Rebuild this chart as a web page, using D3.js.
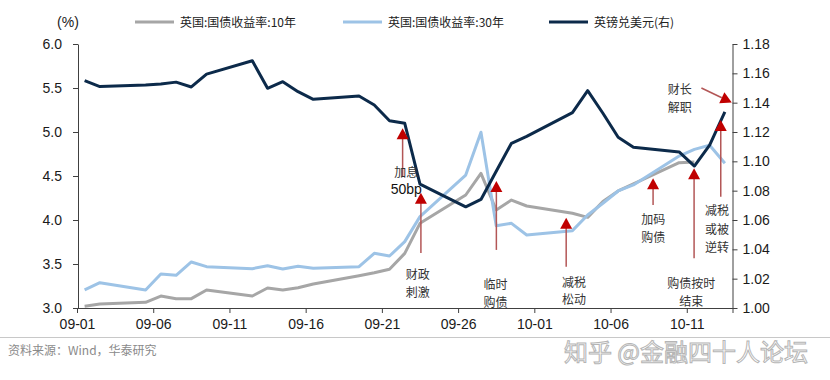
<!DOCTYPE html>
<html><head><meta charset="utf-8">
<script src="https://cdn.jsdelivr.net/npm/d3@7"></script>
<style>body{margin:0;background:#fff}svg{display:block}</style>
</head><body><svg id="c" width="830" height="380"></svg>
<script>
const dates = ["2022-09-01","2022-09-02","2022-09-05","2022-09-06","2022-09-07","2022-09-08","2022-09-09",
"2022-09-12","2022-09-13","2022-09-14","2022-09-15","2022-09-16","2022-09-19","2022-09-20","2022-09-21",
"2022-09-22","2022-09-23","2022-09-26","2022-09-27","2022-09-28","2022-09-29","2022-09-30",
"2022-10-03","2022-10-04","2022-10-05","2022-10-06","2022-10-07","2022-10-10","2022-10-11","2022-10-12","2022-10-13"];
const gilt10 = [3.02,3.045,3.065,3.136,3.106,3.106,3.205,3.136,3.227,3.205,3.231,3.273,3.367,3.40,3.44,
3.621,3.962,4.284,4.53,4.114,4.227,4.159,4.076,4.03,4.21,4.33,4.41,4.651,4.66,null,null];
const gilt30 = [3.205,3.288,3.205,3.386,3.371,3.523,3.47,3.447,3.481,3.443,3.474,3.451,3.47,3.621,3.591,
3.754,4.038,4.511,4.997,3.935,3.962,3.83,3.879,4.057,4.19,4.33,4.398,4.727,4.803,4.85,4.644];
const gbpusd = [1.155,1.151,1.152,1.1527,1.154,1.1507,1.1595,1.1686,1.1498,1.1543,1.1475,1.1423,1.1445,1.1384,1.1277,
1.1259,1.0845,1.069,1.074,1.0932,1.1123,1.117,1.1332,1.1482,1.1328,1.1164,1.1096,1.1064,1.0968,1.1111,1.1338];
const xTickLabels = ["09-01","09-06","09-11","09-16","09-21","09-26","10-01","10-06","10-11"];
const leftTicks = [3.0,3.5,4.0,4.5,5.0,5.5,6.0];
const rightTicks = [1.00,1.02,1.04,1.06,1.08,1.10,1.12,1.14,1.16,1.18];
const seriesNames = ["英国:国债收益率:10年","英国:国债收益率:30年","英镑兑美元(右)"];
const colors = ["#a6a6a6","#9dc3e6","#0c2a4a"];
// annotations: day offset from 09-01, left-axis values for arrow tip / stem end, label lines
const notes = [
  {day:21.36, tip:5.042, end:4.49, lx:21.6, ly:[4.55,4.35], lines:["加息","50bp"]},
  {day:22.56, tip:4.31, end:3.625, lx:22.35, ly:[3.39,3.19], lines:["财政","刺激"]},
  {day:27.51, tip:4.443, end:3.66, lx:27.45, ly:[3.28,3.075], lines:["临时","购债"]},
  {day:32.09, tip:4.026, end:3.469, lx:32.6, ly:[3.30,3.105], lines:["减税","松动"]},
  {day:37.79, tip:4.474, end:4.17, lx:37.8, ly:[4.02,3.815], lines:["加码","购债"]},
  {day:40.48, tip:4.588, end:3.565, lx:40.3, ly:[3.29,3.09], lines:["购债按时","结束"]},
  {day:42.23, tip:5.136, end:4.265, lx:41.98, ly:[4.115,3.90,3.70], lines:["减税","或被","逆转"]}
];
const diagNote = {fromDay:40.96, fromV:5.5, toDay:42.95, toV:5.335, lx:39.54, ly:[5.49,5.29], lines:["财长","解职"]};

const svg = d3.select("#c");
const parse = d3.utcParse("%Y-%m-%d");
const start = parse("2022-09-01"), stop = parse("2022-10-14");
const x = d3.scaleUtc().domain([start, stop]).range([77, 732.5]);
const yL = d3.scaleLinear().domain([3,6]).range([308,44]);
const yR = d3.scaleLinear().domain([1.00,1.18]).range([308,44]);
const mid = s => new Date(parse(s).getTime() + 12*3600e3);
const dayX = d => x(new Date(start.getTime() + d*864e5));
const font = "'Liberation Sans', Arial, sans-serif";
const cjk = "'Noto Sans CJK SC', sans-serif";

// axes
const xAxis = d3.axisBottom(x).tickValues(xTickLabels.map(t => parse("2022-"+t)))
  .tickFormat(d3.utcFormat("%m-%d")).tickSizeOuter(0).tickSize(5);
const gx = svg.append("g").attr("transform","translate(0,308)").call(xAxis);
const gl = svg.append("g").attr("transform","translate(78,0)").call(d3.axisLeft(yL).tickValues(leftTicks).tickFormat(d3.format(".1f")).tickSize(5).tickSizeOuter(0));
const gr = svg.append("g").attr("transform","translate(732.5,0)").call(d3.axisRight(yR).tickValues(rightTicks).tickFormat(d3.format(".2f")).tickSize(5).tickSizeOuter(0));
[gx,gl,gr].forEach(g=>{
  g.selectAll("path,line").attr("stroke","#404040").attr("stroke-width",1);
  g.selectAll("text").attr("font-family",font).attr("font-size",14).attr("fill","#1a1a1a");
});
gx.selectAll("text").attr("dy","0.95em");
gl.selectAll("text").attr("x",-16);
gr.selectAll("text").attr("x",10);

svg.append("text").attr("x",68).attr("y",27).attr("text-anchor","middle")
  .attr("font-family",font).attr("font-size",14).attr("fill","#1a1a1a").text("(%)");

// lines
const mk = (vals, scale) => d3.line().defined(d => d[1] != null)
  .x(d => x(mid(d[0]))).y(d => scale(d[1]))(dates.map((dt,i)=>[dt, vals[i]]));
svg.append("path").attr("d", mk(gilt10, yL)).attr("fill","none").attr("stroke",colors[0]).attr("stroke-width",3).attr("stroke-linejoin","round");
svg.append("path").attr("d", mk(gilt30, yL)).attr("fill","none").attr("stroke",colors[1]).attr("stroke-width",3).attr("stroke-linejoin","round");
svg.append("path").attr("d", mk(gbpusd, yR)).attr("fill","none").attr("stroke",colors[2]).attr("stroke-width",3).attr("stroke-linejoin","round");

// legend
const legX = [135, 343, 549];
seriesNames.forEach((n,i)=>{
  svg.append("line").attr("x1",legX[i]).attr("x2",legX[i]+39).attr("y1",22).attr("y2",22)
    .attr("stroke",colors[i]).attr("stroke-width",3);
  svg.append("text").attr("x",legX[i]+45).attr("y",26.5).attr("font-family",cjk).attr("font-size",12)
    .attr("fill","#222").text(n);
});

// annotations
const red = "#c00000", stem = "#b35656";
notes.forEach(n=>{
  const ax = dayX(n.day), ty = yL(n.tip), ey = yL(n.end);
  svg.append("line").attr("x1",ax).attr("x2",ax).attr("y1",ty+8).attr("y2",ey)
    .attr("stroke",stem).attr("stroke-width",1.5);
  svg.append("path").attr("d",`M${ax},${ty}L${ax-6},${ty+11}L${ax+6},${ty+11}Z`).attr("fill",red);
  n.lines.forEach((t,j)=>{
    svg.append("text").attr("x",dayX(n.lx)).attr("y",yL(n.ly[j])).attr("text-anchor","middle")
      .attr("dominant-baseline","central")
      .attr("font-family", t==="50bp"?font:cjk).attr("font-size", t==="50bp"?14:12)
      .attr("fill", t==="50bp"?"#111":"#333").text(t);
  });
});
{
  const x1 = dayX(diagNote.fromDay), y1 = yL(diagNote.fromV), x2 = dayX(diagNote.toDay), y2 = yL(diagNote.toV);
  const ang = Math.atan2(y2-y1, x2-x1);
  const bx = x2 - 11*Math.cos(ang), by = y2 - 11*Math.sin(ang);
  svg.append("line").attr("x1",x1).attr("y1",y1).attr("x2",bx).attr("y2",by).attr("stroke",stem).attr("stroke-width",1.5);
  const px = -Math.sin(ang)*6, py = Math.cos(ang)*6;
  svg.append("path").attr("d",`M${x2},${y2}L${bx+px},${by+py}L${bx-px},${by-py}Z`).attr("fill",red);
  diagNote.lines.forEach((t,j)=>{
    svg.append("text").attr("x",dayX(diagNote.lx)).attr("y",yL(diagNote.ly[j])).attr("text-anchor","middle")
      .attr("dominant-baseline","central").attr("font-family",cjk).attr("font-size",12).attr("fill","#333").text(t);
  });
}

// footer
svg.append("line").attr("x1",0).attr("x2",830).attr("y1",337.5).attr("y2",337.5).attr("stroke","#c8c8c8").attr("stroke-width",1);
svg.append("text").attr("x",8).attr("y",355).attr("font-family",cjk).attr("font-size",12).attr("fill","#8a8a8a").text("资料来源：Wind，华泰研究");
svg.append("text").attr("x",808).attr("y",361).attr("text-anchor","end").attr("font-family",cjk).attr("font-size",24)
  .attr("fill","#ffffff").attr("stroke","#b5b5b5").attr("stroke-width",1).text("知乎 @金融四十人论坛");
</script></body></html>
